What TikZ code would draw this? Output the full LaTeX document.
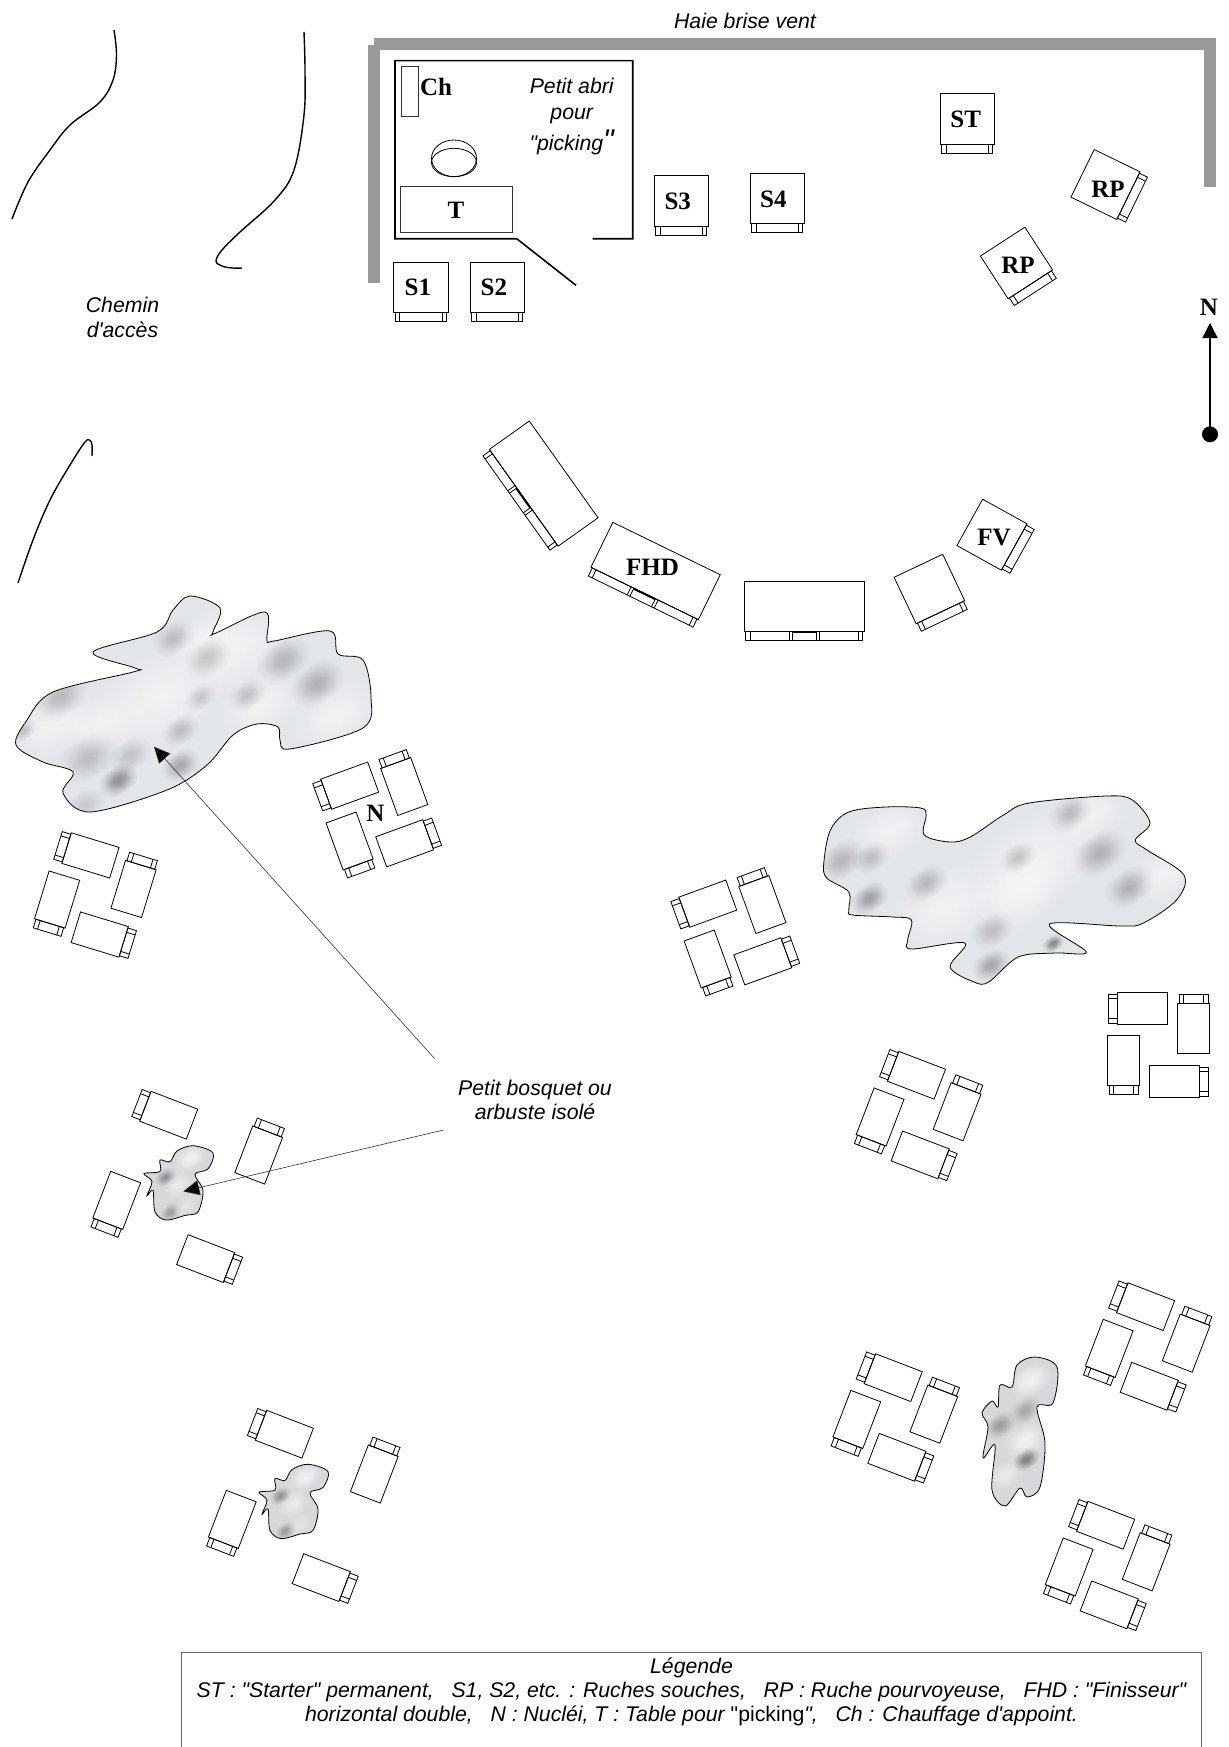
\documentclass[tikz,border=0pt]{standalone}
\usepackage{fontspec}
\usepackage{tikz}
\usetikzlibrary{arrows.meta,fadings}
\newfontfamily\plansans{Liberation Sans}
\newfontfamily\planserif{Liberation Serif}
\definecolor{HaieGris}{HTML}{999999}
\definecolor{CadreGris}{HTML}{666666}
\definecolor{MarbreClair}{HTML}{E3E6E9}
\definecolor{MarbrePetit}{HTML}{D6D8DA}
\tikzfading[name=tache,inner color=transparent!0,outer color=transparent!100]

\newcommand{\ruche}[5]{%
  \begin{scope}[shift={(#1,#2)},rotate=#3]
    \draw[trait] (-#4/2,-#5/2) rectangle (#4/2,#5/2);
    \draw[trait] (-#4/2+1.5,#5/2) rectangle (#4/2-1.5,#5/2+9);
    \draw[trait] (-#4/2+6,#5/2) -- (-#4/2+6,#5/2+9);
    \draw[trait] (#4/2-6,#5/2) -- (#4/2-6,#5/2+9);
  \end{scope}}
\newcommand{\ruchedouble}[5]{%
  \begin{scope}[shift={(#1,#2)},rotate=#3]
    \draw[trait] (-#4/2,-#5/2) rectangle (#4/2,#5/2);
    \draw[trait] (-#4/2+1.5,#5/2) rectangle (#4/2-1.5,#5/2+9);
    \foreach \tick in {-54,-15,-12,12,15,54}
      \draw[trait] (\tick,#5/2) -- (\tick,#5/2+9);
    \draw[line width=2pt] (-12,#5/2+.5) -- (12,#5/2+.5);
  \end{scope}}
\newcommand{\groupe}[3]{%
  \begin{scope}[shift={(#1,#2)},rotate=#3]
    \ruche{-16}{-36}{-90}{32}{50}
    \ruche{35}{-16.5}{180}{32}{50}
    \ruche{-35}{16}{0}{32}{50}
    \ruche{16}{37}{90}{32}{50}
  \end{scope}}
\newcommand{\bosquet}[3]{%
  \begin{scope}
    \clip plot[smooth cycle,tension=.55] coordinates {#2};
    \fill[#1] (-200,-400) rectangle (1400,1800);
    \foreach \tx/\ty/\rayon/\force/\teinte in {#3}{
      \pgfmathsetmacro{\dilue}{\force*.3}
      \foreach \k in {-1,0,1}
        \fill[\teinte,opacity=\dilue,path fading=tache] (\tx+\k*\rayon*.8,\ty-.55*\k*\rayon) circle (\rayon*2);
    }
  \end{scope}
  \draw[trait] plot[smooth cycle,tension=.55] coordinates {#2};}

\begin{document}
\begin{tikzpicture}[
    x=1pt,y=-1pt,
    trait/.style={line width=.8pt,draw=black},
    haie/.style={line width=12pt,draw=HaieGris},
    abri/.style={line width=1.6pt,draw=black},
    chemin/.style={line width=1.4pt,draw=black,smooth,tension=.6},
    fleche/.style={line width=.6pt,draw=black!80,
      -{Triangle[length=16pt,width=15pt,fill=black]}},
    nord/.style={line width=1.5pt,-{Triangle[length=15pt,width=15pt]}},
    etiq/.style={font=\fontsize{25}{25}\selectfont\planserif\bfseries,inner sep=0pt},
    note/.style={font=\fontsize{21.25}{26}\selectfont\plansans\itshape,align=center,inner sep=0pt},
    legende/.style={font=\fontsize{21.25}{24}\selectfont\plansans\itshape,align=center,inner sep=0pt}
  ]
    \useasboundingbox (0,0) rectangle (1228,1747);

    \draw[haie] (374,283) -- (374,45);
    \draw[haie] (374,44) -- (1210,44) -- (1210,187);
    \node[note] (haie) at (745,20.5) {Haie brise vent};

    \draw[chemin] plot coordinates {(114,30) (116.5,55) (113,80) (100,102) (70,125) (50,150) (28,182) (12,219)};
    \draw[chemin] plot coordinates {(304,32) (305,70) (304,115) (294,170) (275,200) (240,232) (222,250) (216,261) (222,266) (232,268) (242,268)};
    \draw[chemin] plot coordinates {(18,583) (33,540) (50,500) (70,465) (85,442) (90,440.5) (92,445) (92,456)};
    \node[note,font=\fontsize{21.25}{25}\selectfont\plansans\itshape] (chemin) at (122.5,317) {Chemin\\d'accès};

    \draw[abri] (592.7,238.7) -- (632.7,238.7) -- (632.7,60.7) -- (395,60.7) -- (395,238.7) -- (516.7,238.7) -- (576,285.3);
    \draw[trait,draw=black!80] (401.7,66.7) rectangle (418.3,116.7);
    \draw[trait] (454,158.3) ellipse (22.5 and 18.3);
    \draw[trait] (454,162.5) ellipse (22.5 and 14.2);
    \draw[trait,draw=black!80] (400,186.7) rectangle (512.3,232.7);
    \node[etiq] (ch) at (436,87.3) {Ch};
    \node[etiq] (table) at (456,210.7) {T};
    \node[note] (picking) at (571.7,116.5) {Petit abri\\pour\\[5pt]"picking{\fontsize{30}{28}\selectfont"}};

    \ruche{421}{287}{0}{54.5}{50}
    \ruche{497}{287}{0}{54}{50}
    \ruche{681}{200.5}{0}{54}{51}
    \ruche{777}{198}{0}{54}{50}
    \ruche{967}{118.5}{0}{54}{51}
    \ruche{1105.5}{184.5}{64}{53}{51}
    \ruche{1016.5}{263}{33}{53}{51}
    \node[etiq] (s1) at (417.8,287.5) {S1};
    \node[etiq] (s2) at (493.8,287.5) {S2};
    \node[etiq] (s3) at (677.7,201.5) {S3};
    \node[etiq] (s4) at (773.3,199.5) {S4};
    \node[etiq] (st) at (965.7,119.3) {ST};
    \node[etiq] (rpa) at (1108,189) {RP};
    \node[etiq] (rpb) at (1018,265) {RP};

    \draw[nord] (1210,434) -- (1210,323);
    \fill (1210,434.3) circle (8);
    \node[etiq] (nordlabel) at (1209,307) {N};

    \ruchedouble{543.7}{483.6}{-54.6}{118.7}{49}
    \ruchedouble{655.6}{571}{-26}{119.5}{50}
    \ruchedouble{804}{606.5}{0}{120}{50.4}
    \ruche{929.4}{589}{25.4}{53.8}{51.4}
    \ruche{992}{534.7}{61}{53}{50.8}
    \node[etiq] (fhd) at (652.5,567) {FHD};
    \node[etiq] (fv) at (994,537.3) {FV};

    \bosquet{MarbreClair}{(190,596) (220,608) (213,632) (216,633) (265,612) (267,640) (274,641) (330,631) (338,654) (363,660) (371,697) (363,728) (290,749) (280,740) (278,727) (257,724) (233,735) (207,765) (167,790) (90,812) (63,793) (73,772) (43,762) (16,745) (27,720) (53,692) (133,672) (135,668) (93,652) (157,632) (173,610)}
      {160/697/24/1/white,233/650/20/1/white,53/723/16/1/white,335/715/16/1/white,100/725/16/1/white,205/640/14/1/white,260/705/16/1/white,60/697/10/.35/black,88/757/11/.3/black,118/780/7/.7/black,130/755/8/.25/black,180/765/7/.5/black,180/730/7/.3/black,207/657/9/.3/black,173/638/8/.3/black,317/683/10/.4/black,283/660/10/.35/black,247/695/7/.3/black,200/697/6/.25/black,23/730/5/.3/black,85/805/8/.2/black}
    \bosquet{MarbreClair}{(848.8,812) (885.6,807) (920.6,808) (926.1,815) (924.3,835) (950,842) (970.3,837) (1003.5,815) (1029.2,803) (1106.6,796) (1132.3,800) (1150,823) (1135.3,840) (1147,850) (1183.9,875) (1176.5,900) (1143.4,923) (1121.3,926) (1049.5,924) (1086.3,952) (1055,953) (1018.2,957) (988.7,982) (974,982) (950,967) (964.8,943) (911.4,949) (907.7,940) (911.4,920) (893,917) (852.5,915) (848.8,910) (848.8,892) (826.7,878) (823.8,863) (830.4,830)}
      {1033/863/24/1/white,945/907/20/1/white,1018/893/18/1/white,1165/873/14/1/white,889/830/14/1/white,1090/815/14/1/white,869/898/7/.55/black,926/883/8/.35/black,841/860/9/.35/black,871/857/7/.3/black,1018/857/7/.3/black,1099/853/10/.4/black,1070/813/8/.35/black,1129/887/9/.4/black,1053/943/4/.8/black,990.6/965/7/.5/black,992/930/8/.3/black}

    \foreach \ox/\oy in {0/0,115/318.6}{
      \begin{scope}[shift={(\ox,\oy)}]
        \bosquet{MarbrePetit}{(177,1151) (193,1145.7) (213,1152.9) (208,1168.9) (195,1174.3) (203,1190.4) (198,1211.8) (185,1215.4) (166,1220) (155,1211.8) (153,1190.4) (147,1195.7) (152,1181.4) (144,1173.6) (160,1171.4) (160,1160) (170,1161.8)}
          {190/1158/6/1.5/white,178/1185/6/1/white,165/1177/4/.6/black,170/1212/4/.5/black,185/1205/5/.6/white}
      \end{scope}
    }
    \bosquet{MarbrePetit}{(1035,1357) (1057,1367) (1053,1403) (1037,1407) (1045,1443) (1040,1487) (1027,1497) (1020,1488) (1005,1506) (992,1490) (995,1445) (983,1458) (988,1427) (982,1413) (992,1401) (998,1407) (1000,1385) (1012,1387) (1017,1365)}
      {1030/1380/8/1.5/white,1025/1440/8/1.5/white,1005/1475/7/1/white,1000/1425/6/.5/black,1025/1410/6/.4/black,1026/1459/5/.8/black}

    \groupe{95.25}{894.5}{-17}
    \groupe{377}{814}{20}
    \groupe{735.1}{932}{20}
    \groupe{1158.6}{1044.6}{0}
    \groupe{918.5}{1114.6}{-21}
    \groupe{1147.6}{1346}{-21}
    \groupe{895.2}{1417}{-21}
    \groupe{1107.6}{1564.6}{-21}
    \node[etiq] (nucl) at (375.5,813) {N};

    \foreach \ox/\oy in {0/0,115.6/319}{
      \begin{scope}[shift={(\ox,\oy)}]
        \ruche{168.7}{1115.2}{-111}{32}{50}
        \ruche{258.7}{1155}{159}{32}{50}
        \ruche{116.7}{1200.4}{-21}{32}{50}
        \ruche{205.7}{1258.6}{69}{32}{50}
      \end{scope}
    }

    \node[note,font=\fontsize{21.25}{24.5}\selectfont\plansans\itshape] (isole) at (535,1100) {Petit bosquet ou\\arbuste isolé};
    \coordinate (departa) at (434.6,1058.6);
    \coordinate (pointea) at (154,746.7);
    \coordinate (departb) at (443.5,1130);
    \coordinate (pointeb) at (183.3,1191.4);
    \draw[fleche] (departa) -- (pointea);
    \draw[fleche] (departb) -- (pointeb);

    \draw[line width=.9pt,draw=CadreGris] (181.6,1652.6) rectangle (1201,1770);
    \node[legende] (legende) at (691.5,1692) {Légende\\ST : "Starter" permanent,\ \ \ S1, S2, etc. : Ruches souches,\ \ \ RP : Ruche pourvoyeuse,\ \ \ FHD : "Finisseur"\\horizontal double,\ \ \ N : Nucléi, T : Table pour {\upshape"picking}",\ \ \ Ch : Chauffage d'appoint.};
  \end{tikzpicture}
\end{document}
